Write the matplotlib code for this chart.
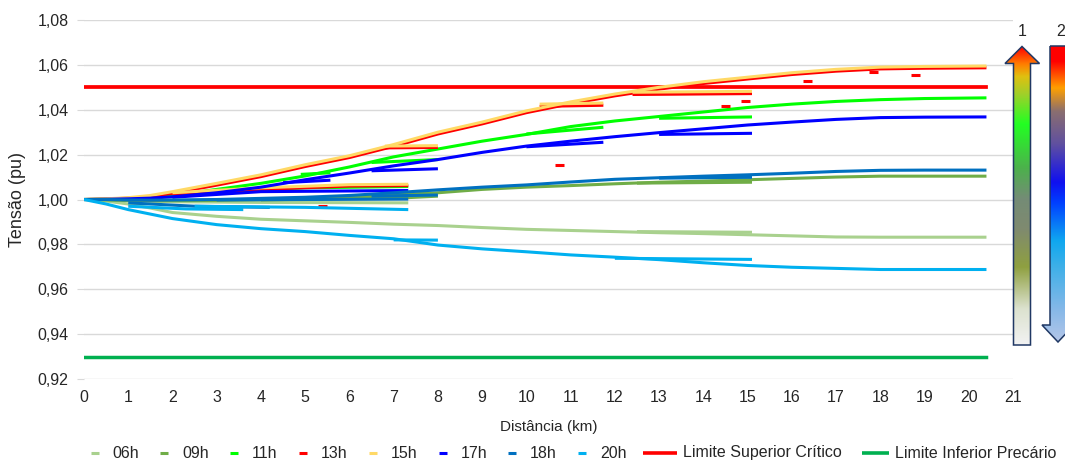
import numpy as np
import matplotlib
matplotlib.use("Agg")
import matplotlib.pyplot as plt
from matplotlib.lines import Line2D
from matplotlib.patches import Polygon
from matplotlib.colors import LinearSegmentedColormap

plt.rcParams['font.family'] = ['Liberation Sans', 'DejaVu Sans']

# ---------------------------------------------------------------- data
hours = ['06h', '09h', '11h', '13h', '15h', '17h', '18h', '20h']
hour_colors = ['#A9D18E', '#70AD47', '#00FF00', '#FF0000',
               '#FFD966', '#0000FF', '#0070C0', '#00B0F0']

# distance along the main feeder (km)
trunk_km = [0, 0.5, 1, 1.5, 2, 3, 4, 5, 6, 7, 8, 9, 10, 11, 12, 13, 14, 15,
            16, 17, 18, 19, 20.4]

# voltage along the main feeder (pu)
v06 = [1.000, 0.9993, 0.998, 0.9962, 0.9942, 0.9925, 0.9912, 0.9905, 0.9898,
       0.989, 0.9884, 0.9875, 0.9867, 0.9862, 0.9857, 0.9852, 0.9848, 0.9843,
       0.9838, 0.9833, 0.9832, 0.9832, 0.9832]
v09 = [1.000, 0.9998, 0.9995, 0.9994, 0.9995, 0.9996, 1.000, 1.0005, 1.0012,
       1.0022, 1.003, 1.0045, 1.0055, 1.0062, 1.007, 1.0077, 1.0082, 1.0088,
       1.0094, 1.0100, 1.0104, 1.0104, 1.0104]
v11 = [1.000, 1.0002, 1.0005, 1.001, 1.0018, 1.0045, 1.0072, 1.0105, 1.0145,
       1.019, 1.0225, 1.026, 1.029, 1.0325, 1.035, 1.037, 1.039, 1.041,
       1.0425, 1.0437, 1.0445, 1.045, 1.0453]
v13 = [1.000, 1.0002, 1.0006, 1.0012, 1.0028, 1.0064, 1.0102, 1.0147, 1.0187,
       1.0237, 1.0292, 1.0337, 1.0387, 1.0427, 1.0462, 1.0492, 1.0517, 1.0537,
       1.0557, 1.0572, 1.0582, 1.0585, 1.0587]
v15 = [1.000, 1.0003, 1.0008, 1.0018, 1.0035, 1.0072, 1.011, 1.0155, 1.0195,
       1.0245, 1.030, 1.0345, 1.0395, 1.0435, 1.047, 1.050, 1.0525, 1.0545,
       1.0565, 1.058, 1.059, 1.0593, 1.0595]
v17 = [1.000, 1.0001, 1.0003, 1.0006, 1.0012, 1.003, 1.0055, 1.0088, 1.0118,
       1.015, 1.0178, 1.021, 1.0238, 1.026, 1.028, 1.0298, 1.0315, 1.0332,
       1.0345, 1.0357, 1.0365, 1.0367, 1.0368]
v18 = [1.000, 1.0000, 0.9998, 0.9997, 0.9998, 1.0000, 1.0005, 1.001, 1.0018,
       1.003, 1.0043, 1.0055, 1.0065, 1.0078, 1.009, 1.0097, 1.0104, 1.011,
       1.0117, 1.0125, 1.013, 1.0131, 1.0131]
v20 = [1.000, 0.998, 0.9955, 0.9935, 0.9915, 0.9888, 0.987, 0.9857, 0.984,
       0.9825, 0.9797, 0.978, 0.9767, 0.9753, 0.9743, 0.9732, 0.9718, 0.9706,
       0.9698, 0.9693, 0.9688, 0.9688, 0.9688]

# lateral branches: (distances in km, voltages in pu)
b06 = [([1.0, 2.0, 4.0, 7.33], [0.9995, 0.999, 0.9987, 0.9985]),
       ([12.5, 15.1], [0.9857, 0.9854])]
b09 = [([4.0, 5.5, 7.3, 8.0], [0.9998, 1.0003, 1.0008, 1.0015]),
       ([12.5, 15.1], [1.0073, 1.0077])]
b11 = [([2.5, 5.0, 7.33], [1.003, 1.0052, 1.0058]),
       ([4.9, 5.57], [1.0112, 1.0119]),
       ([6.5, 8.0], [1.0165, 1.0178]),
       ([10.0, 11.74], [1.0292, 1.0322]),
       ([13.0, 15.1], [1.0362, 1.0368])]
b13 = [([2.0, 4.0, 6.0, 7.33], [1.0025, 1.0045, 1.006, 1.0062]),
       ([6.8, 8.0], [1.023, 1.0232]),
       ([10.3, 11.74], [1.0415, 1.042]),
       ([12.4, 15.1], [1.0468, 1.0472]),
       ([5.3, 5.5], [0.997, 0.997]),
       ([10.65, 10.85], [1.0153, 1.0153]),
       ([14.4, 14.6], [1.0416, 1.0416]),
       ([14.85, 15.05], [1.0438, 1.0438]),
       ([16.25, 16.45], [1.0526, 1.0526]),
       ([17.75, 17.95], [1.0567, 1.0567]),
       ([18.7, 18.9], [1.0555, 1.0555])]
b15 = [([2.0, 4.0, 6.0, 7.33], [1.003, 1.0052, 1.0066, 1.0068]),
       ([6.8, 8.0], [1.0238, 1.024]),
       ([10.3, 11.74], [1.0425, 1.043]),
       ([12.4, 15.1], [1.0478, 1.0482])]
b17 = [([2.0, 4.0, 7.33], [1.001, 1.0035, 1.004]),
       ([4.5, 5.57], [1.0075, 1.0086]),
       ([6.5, 8.0], [1.0128, 1.0137]),
       ([10.0, 11.74], [1.0235, 1.0255]),
       ([13.0, 15.1], [1.029, 1.0295])]
b18 = [([1.0, 2.5, 4.2], [0.9985, 0.997, 0.9965]),
       ([3.0, 5.0, 7.33], [0.9998, 1.0, 1.0002]),
       ([6.5, 8.0], [1.0015, 1.002]),
       ([13.0, 15.1], [1.0095, 1.0099])]
b20 = [([1.0, 2.3, 3.6], [0.997, 0.9958, 0.9955]),
       ([2.5, 5.0, 7.33], [0.997, 0.9965, 0.9955]),
       ([7.0, 8.0], [0.982, 0.9819]),
       ([12.0, 15.1], [0.9738, 0.9733])]

trunks = [v06, v09, v11, v13, v15, v17, v18, v20]
branches = [b06, b09, b11, b13, b15, b17, b18, b20]

limit_km = [0, 20.4]
limit_sup = [1.05, 1.05]
limit_inf = [0.93, 0.93]
limit_labels = ['Limite Superior Crítico', 'Limite Inferior Precário']
limit_colors = ['#FF0000', '#00B050']

x_ticks = list(range(0, 22))
y_ticks = [0.92, 0.94, 0.96, 0.98, 1.00, 1.02, 1.04, 1.06, 1.08]

# ---------------------------------------------------------------- figure
W, H = 1065, 462
fig = plt.figure(figsize=(W / 100, H / 100), dpi=100)
ax = fig.add_axes([84 / W, 1 - 379 / H, (1013 - 84) / W, (379 - 20) / H])

ax.plot(limit_km, limit_sup, color=limit_colors[0], lw=2.7, zorder=2)
ax.plot(limit_km, limit_inf, color=limit_colors[1], lw=2.5, zorder=2)

for i, (tr, brs, col) in enumerate(zip(trunks, branches, hour_colors)):
    z = 3 + i
    for bx, bv in brs:
        ax.plot(bx, bv, color=col, lw=2.2, solid_capstyle='butt', zorder=z)
    ax.plot(trunk_km, tr, color=col, lw=2.2, solid_capstyle='butt', zorder=z)

ax.set_xlim(0, 21)
ax.set_ylim(0.92, 1.08)
ax.set_xticks(x_ticks)
ax.set_yticks(y_ticks)
ax.set_yticklabels([f"{t:.2f}".replace('.', ',') for t in y_ticks])
ax.grid(axis='y', color='#D9D9D9', lw=1.0)
ax.set_axisbelow(True)
for s in ax.spines.values():
    s.set_visible(False)
ax.tick_params(axis='y', length=5, color='#D9D9D9', labelsize=11.5,
               labelcolor='#262626', pad=6)
ax.tick_params(axis='x', length=0, labelsize=11.5, labelcolor='#262626', pad=8)
ax.set_ylabel('Tensão (pu)', fontsize=13, color='#262626', labelpad=8)
ax.set_xlabel('Distância (km)', fontsize=11, color='#262626', labelpad=11)

# ---------------------------------------------------------------- overlay (pixel coordinates)
ov = fig.add_axes([0, 0, 1, 1], zorder=10)
ov.set_xlim(0, W)
ov.set_ylim(H, 0)
ov.axis('off')
ov.patch.set_alpha(0)

# legend
leg_y = 453
hour_dash_x = [90.5, 160, 230, 299, 369, 439, 508, 578]
for hx, lab, col in zip(hour_dash_x, hours, hour_colors):
    ov.add_line(Line2D([hx, hx + 8], [leg_y, leg_y], color=col, lw=2.2,
                       solid_capstyle='butt'))
    ov.text(hx + 22, leg_y, lab, fontsize=11.5, color='#262626',
            va='center', ha='left')
limit_line_x = [(643, 677), (862, 889)]
for (x0, x1), lab, col in zip(limit_line_x, limit_labels, limit_colors):
    ov.add_line(Line2D([x0, x1], [leg_y, leg_y], color=col, lw=2.6,
                       solid_capstyle='butt'))
    ov.text(x1 + 6, leg_y, lab, fontsize=11.5, color='#262626',
            va='center', ha='left')

# gradient arrows
def gradient_arrow(pts, stops, y_top, y_bot):
    cmap = LinearSegmentedColormap.from_list('g', stops)
    grad = np.linspace(1, 0, 256).reshape(-1, 1)
    xs = [p[0] for p in pts]
    poly = Polygon(pts, closed=True, fc='none', ec='#203864', lw=1.1,
                   zorder=12)
    ov.add_patch(poly)
    im = ov.imshow(grad, cmap=cmap, aspect='auto', zorder=11,
                   extent=(min(xs), max(xs), y_bot, y_top),
                   interpolation='bilinear')
    im.set_clip_path(poly)

arrow1 = [(1013.5, 345), (1030.5, 345), (1030.5, 63.5), (1039.5, 63.5),
          (1022, 46.5), (1005, 63.5), (1013.5, 63.5)]
stops1 = [(0.0, '#F2F2F2'), (0.12, '#DCE2CF'), (0.26, '#8FA040'),
          (0.39, '#7F8A70'), (0.49, '#748C76'), (0.59, '#4DB04D'),
          (0.74, '#22FF22'), (0.84, '#A0D02A'), (0.90, '#E0C010'),
          (0.94, '#FF8000'), (1.0, '#FF0000')]
gradient_arrow(arrow1, stops1, 46.5, 345)

arrow2 = [(1050, 46), (1066, 46), (1066, 325), (1074, 325), (1058, 342),
          (1042, 325), (1050, 325)]
stops2 = [(0.0, '#B4C6E8'), (0.11, '#85B8E8'), (0.25, '#40B0E8'),
          (0.34, '#10A8F0'), (0.47, '#0040FF'), (0.54, '#1010F0'),
          (0.67, '#6050A0'), (0.78, '#8A6E70'), (0.86, '#FFA000'),
          (0.95, '#FF0000'), (1.0, '#FF0000')]
gradient_arrow(arrow2, stops2, 46, 342)

ov.text(1022, 31, '1', fontsize=11.5, color='#262626', ha='center', va='center')
ov.text(1061, 31, '2', fontsize=11.5, color='#262626', ha='center', va='center')

fig.savefig('out.png', dpi=100)
